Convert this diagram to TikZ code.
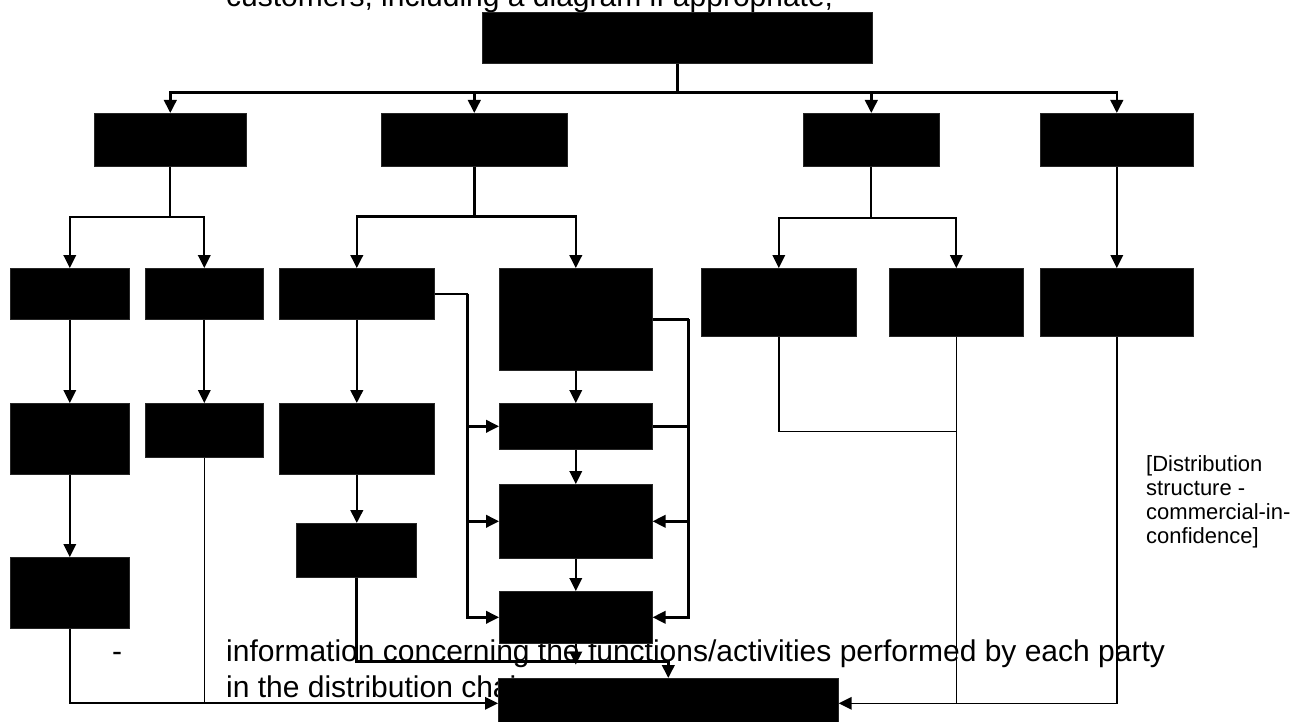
\documentclass[tikz,border=0pt]{standalone}
\usepackage{fontspec}
\setmainfont{Liberation Sans}
\usetikzlibrary{arrows.meta,calc}
\tikzset{
    %Define standard arrow tip
    >={Triangle[width=12.5pt,length=13pt]},
    %Define style for boxes
    blackbox/.style={
             rectangle,
             fill=black,
             draw=black!85, line width=0.6pt,
             inner sep=0pt,
             anchor=north west},
    % Define line styles
    link/.style={
            line width=1.9pt},
    flow/.style={
            ->,
            line width=1.9pt},
    % Define text styles
    bodytext/.style={
            font=\fontsize{30}{36}\selectfont,
            inner sep=0pt,
            anchor=base west},
    notetext/.style={
            font=\fontsize{22}{24}\selectfont,
            align=left,
            inner sep=0pt,
            anchor=north west}
}
\begin{document}
\begin{tikzpicture}[x=1pt, y=-1pt]
 \useasboundingbox (0,0) rectangle (1300,722);
 \clip (0,0) rectangle (1300,722);
 % texts
 \node[bodytext] (intro) at (226,7) {customers, including a diagram if appropriate;};
 \node[bodytext] (dash) at (112,661) {-};
 \node[bodytext] (info) at (226,661) {information concerning the functions/activities performed by each party};
 \node[bodytext] (info2) at (226,697) {in the distribution chain};
 \node[notetext] (note) at (1146,455) {[Distribution\\structure -\\commercial-in-\\confidence]};
 % boxes
 \node[blackbox, minimum width=390pt, minimum height=51pt] (top) at (482,12) {};
 \node[blackbox, minimum width=152pt, minimum height=53pt] (rA) at (94,113) {};
 \node[blackbox, minimum width=186pt, minimum height=53pt] (rB) at (381,113) {};
 \node[blackbox, minimum width=136pt, minimum height=53pt] (rC) at (803,113) {};
 \node[blackbox, minimum width=153pt, minimum height=53pt] (rD) at (1040,113) {};
 \node[blackbox, minimum width=119pt, minimum height=51pt] (A1) at (10,268) {};
 \node[blackbox, minimum width=118pt, minimum height=51pt] (A2) at (145,268) {};
 \node[blackbox, minimum width=155pt, minimum height=51pt] (B1) at (279,268) {};
 \node[blackbox, minimum width=153pt, minimum height=102pt] (B2) at (499,268) {};
 \node[blackbox, minimum width=155pt, minimum height=68pt] (C1) at (701,268) {};
 \node[blackbox, minimum width=134pt, minimum height=68pt] (C2) at (889,268) {};
 \node[blackbox, minimum width=153pt, minimum height=68pt] (D1) at (1040,268) {};
 \node[blackbox, minimum width=119pt, minimum height=71pt] (A1b) at (10,403) {};
 \node[blackbox, minimum width=118pt, minimum height=54pt] (A2b) at (145,403) {};
 \node[blackbox, minimum width=155pt, minimum height=71pt] (B1b) at (279,403) {};
 \node[blackbox, minimum width=153pt, minimum height=46pt] (B3) at (499,403) {};
 \node[blackbox, minimum width=153pt, minimum height=74pt] (B4) at (499,484) {};
 \node[blackbox, minimum width=120pt, minimum height=54pt] (B1c) at (296,523) {};
 \node[blackbox, minimum width=119pt, minimum height=71pt] (A1c) at (10,557) {};
 \node[blackbox, minimum width=153pt, minimum height=52pt] (B5) at (499,591) {};
 \node[blackbox, minimum width=340pt, minimum height=50pt] (bottom) at (498,678) {};
 % top level
 \draw[link, line width=2.6pt] (top.south) -- ++(0,29) coordinate (hub);
 \foreach \t in {rA,rB,rC,rD}
   \draw[flow, line width=2.6pt] (hub) -| (\t.north);
 % second level
 \draw[link, line width=2.2pt] (rA.south) -- ++(0,50) coordinate (hubA);
 \draw[flow, line width=2.2pt] (hubA) -| (A1.north);
 \draw[flow, line width=2.2pt] (hubA) -| (A2.north);
 \draw[link, line width=2.4pt] (rB.south) -- ++(0,50) coordinate (hubB);
 \draw[flow, line width=2.4pt] (hubB) -| (B1.north);
 \draw[flow, line width=2.4pt] (hubB) -| (B2.north);
 \draw[link] (rC.south) -- ++(0,51) coordinate (hubC);
 \draw[flow] (hubC) -| (C1.north);
 \draw[flow] (hubC) -| (C2.north);
 \draw[flow] (rD) -- (D1);
 % columns
 \draw[flow] (A1) -- (A1b);
 \draw[flow] (A1b) -- (A1c);
 \draw[flow] (A2) -- (A2b);
 \draw[flow, line width=2.6pt] (B1.south) -- (B1.south |- B1b.north);
 \draw[flow, line width=2.6pt] (B1b.south) -- (B1b.south |- B1c.north);
 \draw[flow, line width=2.2pt] (B2) -- (B3);
 \draw[flow, line width=2.2pt] (B3) -- (B4);
 \draw[flow, line width=2.2pt] (B4) -- (B5);
 % side buses
 \draw[link, line width=2.4pt] (B1.east) -- ++(33,0) coordinate (busL);
 \draw[flow, line width=2.4pt] (busL) |- (B3.west);
 \draw[flow, line width=2.4pt] (busL) |- (B4.west);
 \draw[flow, line width=2.4pt] (busL) |- (B5.west);
 \draw[link, line width=2.4pt] (B2.east) -- ++(36,0) coordinate (busR);
 \draw[link, line width=2.4pt] (busR) |- (B3.east);
 \draw[flow, line width=2.4pt] (busR) |- (B4.east);
 \draw[flow, line width=2.4pt] (busR) |- (B5.east);
 % into the bottom box
 \draw[flow] (A1c.south) |- (bottom.west);
 \draw[link, line width=1.5pt] (A2b.south) -- (A2b.south |- bottom.west);
 \draw[flow, line width=2.6pt] (B1c.south) -- ++(0,84) -| (bottom.north);
 \draw[flow] (B5.south) -- ++(0,21);
 \draw[link, line width=1.5pt] (C1.south) -- ++(0,95) -| (C2.south);
 \draw[flow, line width=1.5pt] (C2.south) |- (bottom.east);
 \draw[link, line width=1.5pt] (D1.south) |- (C2.south |- bottom.east);
\end{tikzpicture}
\end{document}
